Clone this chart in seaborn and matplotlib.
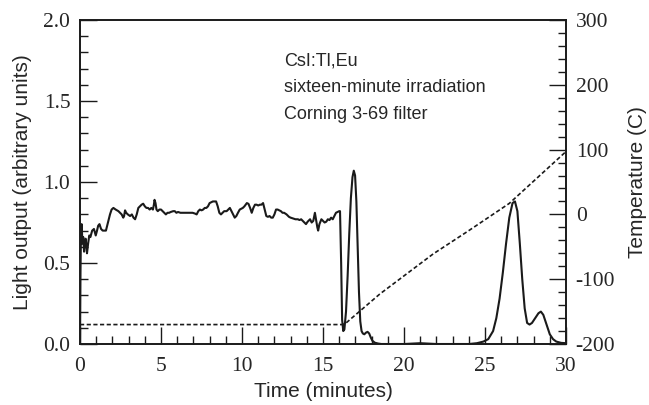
import numpy as np
import pandas as pd
import matplotlib
matplotlib.use("Agg")
import matplotlib.pyplot as plt
import seaborn as sns
from matplotlib.ticker import MultipleLocator, FormatStrFormatter

# ------------------------------
# Data
# ------------------------------
# light output (arbitrary units) vs time (minutes)
time_min = [0.0, 0.03, 0.06, 0.10, 0.15, 0.20, 0.25, 0.30, 0.35, 0.43, 0.50, 0.57, 0.64, 0.75,
            0.86, 0.97, 1.05, 1.12, 1.20, 1.30, 1.40, 1.50, 1.60, 1.70, 1.85, 1.95, 2.06, 2.20,
            2.37, 2.47, 2.57, 2.67, 2.72, 2.78, 2.85, 2.95, 3.09, 3.20, 3.30, 3.40, 3.50, 3.60,
            3.70, 3.80, 3.90, 4.00, 4.10, 4.20, 4.30, 4.40, 4.50, 4.56, 4.60, 4.66, 4.72, 4.80,
            4.90, 5.00, 5.10, 5.20, 5.30, 5.40, 5.50, 5.60, 5.75, 5.85, 5.95, 6.05, 6.20, 6.35,
            6.50, 6.65, 6.80, 6.95, 7.10, 7.20, 7.30, 7.40, 7.50, 7.60, 7.70, 7.80, 7.90, 8.00,
            8.10, 8.20, 8.30, 8.40, 8.50, 8.60, 8.70, 8.80, 8.90, 9.05, 9.15, 9.25, 9.35, 9.45,
            9.55, 9.65, 9.75, 9.86, 9.95, 10.05, 10.15, 10.30, 10.40, 10.50, 10.60, 10.70, 10.80,
            10.90, 11.00, 11.10, 11.20, 11.30, 11.40, 11.50, 11.60, 11.70, 11.80, 11.90, 12.00,
            12.10, 12.20, 12.30, 12.40, 12.50, 12.60, 12.75, 12.90, 13.00, 13.15, 13.30, 13.45,
            13.55, 13.65, 13.75, 13.85, 13.95, 14.05, 14.20, 14.30, 14.40, 14.50, 14.58, 14.65,
            14.70, 14.78, 14.90, 15.00, 15.10, 15.20, 15.30, 15.40, 15.50, 15.60, 15.70, 15.80,
            15.90, 16.00, 16.05, 16.12, 16.18, 16.25, 16.32, 16.42, 16.52, 16.62, 16.72, 16.82,
            16.90, 16.98, 17.06, 17.14, 17.22, 17.30, 17.38, 17.46, 17.55, 17.65, 17.75, 17.85,
            17.95, 18.05, 18.20, 18.40, 18.60, 20.0, 21.0, 22.0, 24.0, 24.5, 24.9, 25.2, 25.5,
            25.7, 25.9, 26.1, 26.3, 26.5, 26.7, 26.85, 27.0, 27.15, 27.3, 27.45, 27.6, 27.75,
            27.9, 28.1, 28.3, 28.45, 28.6, 28.8, 29.0, 29.2, 29.4, 29.7, 30.0]
light = [0.0, 0.45, 0.70, 0.74, 0.62, 0.66, 0.57, 0.63, 0.65, 0.56, 0.62, 0.67, 0.66, 0.70,
         0.71, 0.67, 0.70, 0.73, 0.74, 0.71, 0.70, 0.70, 0.70, 0.74, 0.80, 0.83, 0.84, 0.83,
         0.82, 0.81, 0.80, 0.78, 0.79, 0.825, 0.81, 0.80, 0.79, 0.80, 0.78, 0.77, 0.80, 0.84,
         0.85, 0.86, 0.866, 0.85, 0.84, 0.84, 0.83, 0.84, 0.83, 0.86, 0.89, 0.87, 0.83, 0.82,
         0.83, 0.83, 0.82, 0.81, 0.80, 0.81, 0.81, 0.815, 0.82, 0.82, 0.81, 0.815, 0.81, 0.81,
         0.81, 0.81, 0.81, 0.81, 0.805, 0.80, 0.82, 0.83, 0.825, 0.83, 0.84, 0.84, 0.85, 0.87,
         0.875, 0.88, 0.88, 0.88, 0.85, 0.81, 0.80, 0.81, 0.82, 0.82, 0.83, 0.84, 0.82, 0.80,
         0.78, 0.79, 0.81, 0.83, 0.835, 0.84, 0.85, 0.87, 0.865, 0.84, 0.81, 0.84, 0.86,
         0.86, 0.855, 0.86, 0.86, 0.87, 0.83, 0.79, 0.785, 0.79, 0.78, 0.78, 0.80,
         0.83, 0.83, 0.825, 0.82, 0.81, 0.81, 0.80, 0.785, 0.78, 0.775, 0.77, 0.77,
         0.765, 0.77, 0.76, 0.75, 0.74, 0.755, 0.77, 0.75, 0.76, 0.81, 0.76, 0.72,
         0.70, 0.74, 0.77, 0.76, 0.75, 0.755, 0.77, 0.765, 0.78, 0.77, 0.79, 0.81,
         0.815, 0.82, 0.82, 0.50, 0.15, 0.08, 0.09, 0.20, 0.42, 0.68, 0.90, 1.03,
         1.07, 1.04, 0.88, 0.60, 0.32, 0.14, 0.08, 0.065, 0.06, 0.07, 0.075, 0.065,
         0.04, 0.02, 0.008, 0.003, 0.0, 0.0, 0.005, 0.0, 0.0, 0.005, 0.015, 0.03, 0.08,
         0.16, 0.28, 0.44, 0.62, 0.78, 0.87, 0.88, 0.82, 0.62, 0.40, 0.22, 0.13, 0.12,
         0.13, 0.16, 0.19, 0.20, 0.18, 0.12, 0.06, 0.03, 0.015, 0.007, 0.005]

# temperature (C) vs time (minutes)
temp_time = [0.0, 16.2, 16.4, 18.5, 21.8, 24.0, 26.5, 30.0]
temp_c = [-170, -170, -168, -123, -61, -25, 17, 97]

# ------------------------------
# Plot
# ------------------------------
sns.set_style("ticks")
plt.rcParams['font.family'] = 'Liberation Serif'
plt.rcParams['axes.unicode_minus'] = False

fig = plt.figure(figsize=(6.49, 4.05), dpi=100)
ax = fig.add_axes([0.1233, 0.1506, 0.7488, 0.80])

df = pd.DataFrame({'t': time_min, 'light': light})
sns.lineplot(data=df, x='t', y='light', ax=ax, color='#1a1a1a', lw=1.5,
             estimator=None, sort=False)

ax2 = ax.twinx()
tf = pd.DataFrame({'t': temp_time, 'temp': temp_c})
sns.lineplot(data=tf, x='t', y='temp', ax=ax2, color='#1a1a1a', lw=1.2,
             estimator=None, sort=False)
ax2.lines[0].set_linestyle((0, (2.5, 1.5)))

ax.set_xlim(0, 30)
ax.set_ylim(0, 2.0)
ax2.set_ylim(-200, 300)

ax.xaxis.set_major_locator(MultipleLocator(5))
ax.xaxis.set_minor_locator(MultipleLocator(1))
ax.yaxis.set_major_locator(MultipleLocator(0.5))
ax.yaxis.set_minor_locator(MultipleLocator(0.1))
ax.yaxis.set_major_formatter(FormatStrFormatter('%.1f'))
ax2.yaxis.set_major_locator(MultipleLocator(100))
ax2.yaxis.set_minor_locator(MultipleLocator(20))

ax.tick_params(which='both', direction='in', top=False, right=False,
               labelsize=15.5, width=1.0, color='#1a1a1a')
ax.tick_params(which='major', length=12)
ax.tick_params(which='minor', length=6)
ax.tick_params(axis='x', pad=9)
ax.tick_params(axis='y', pad=7)
ax2.tick_params(which='both', direction='in', left=False, right=True,
                labelsize=15.5, width=1.0, pad=7, color='#1a1a1a')
ax2.tick_params(which='major', length=12)
ax2.tick_params(which='minor', length=6)

for a in (ax, ax2):
    for s in a.spines.values():
        s.set_visible(True)
        s.set_linewidth(1.2)
        s.set_color('#1a1a1a')

ax.set_xlabel('Time (minutes)', family='Liberation Sans', fontsize=15, labelpad=5)
ax.set_ylabel('Light output (arbitrary units)', family='Liberation Sans',
              fontsize=15, labelpad=8)
ax2.set_ylabel('Temperature (C)', family='Liberation Sans', fontsize=15, labelpad=9)

ax.text(12.6, 1.80, "CsI:Tl,Eu\nsixteen-minute irradiation\nCorning 3-69 filter",
        family='Liberation Sans', fontsize=13, va='top', ha='left', linespacing=1.75)

fig.savefig('out.png', dpi=100)
